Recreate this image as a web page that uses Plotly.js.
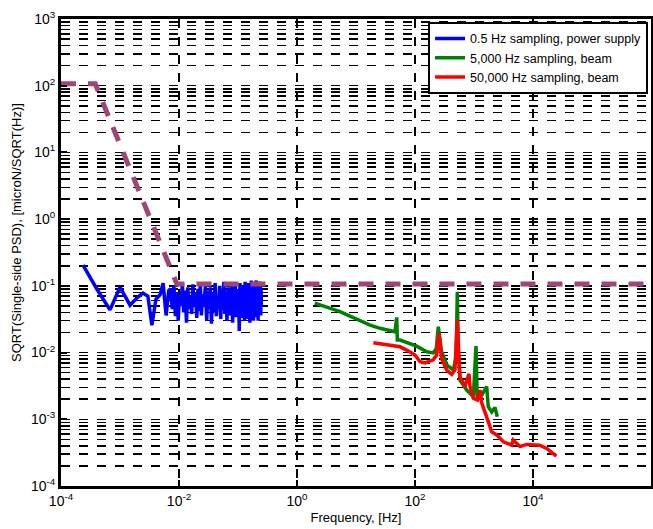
<!DOCTYPE html>
<html>
<head>
<meta charset="utf-8">
<script src="https://cdn.plot.ly/plotly-3.0.1.min.js"></script>
<style>html,body{margin:0;padding:0;background:#fff;}#chart{width:653px;height:529px;}</style>
</head>
<body>
<div id="chart"></div>
<script>
// Blue: 0.5 Hz sampling, power supply
const blueF = [2.36e-4, 4.07e-4, 6.76e-4, 1.0e-3, 1.48e-3, 1.94e-3, 2.45e-3, 2.97e-3, 3.47e-3, 4.06e-3, 4.79e-3, 5.37e-3, 6.05e-3, 6.7e-3,
  0.0072, 0.0077, 0.0082, 0.0087, 0.0092, 0.0097, 0.0102, 0.0108, 0.0114, 0.012,
  0.0127, 0.0134, 0.0141, 0.0148, 0.0156, 0.0164, 0.0172, 0.018, 0.019, 0.020,
  0.021, 0.022, 0.023, 0.024, 0.025, 0.0265, 0.028, 0.0295, 0.031, 0.0325,
  0.034, 0.0355, 0.037, 0.039, 0.041, 0.043, 0.045, 0.047, 0.049, 0.051,
  0.053, 0.055, 0.0575, 0.06, 0.0625, 0.065, 0.0675, 0.07, 0.0725, 0.075,
  0.078, 0.081, 0.084, 0.087, 0.09, 0.093, 0.096, 0.099, 0.102, 0.105,
  0.108, 0.111, 0.114, 0.117, 0.12, 0.123, 0.126, 0.129, 0.132, 0.135,
  0.138, 0.141, 0.144, 0.147, 0.15, 0.153, 0.156, 0.159, 0.162, 0.165,
  0.168, 0.171, 0.174, 0.177, 0.18, 0.183, 0.186, 0.189, 0.192, 0.195,
  0.198, 0.201, 0.204, 0.207, 0.21, 0.213, 0.216, 0.219, 0.222, 0.225,
  0.228, 0.231, 0.234, 0.237, 0.24, 0.243, 0.246, 0.249];
const blueV = [0.204, 0.089, 0.0437, 0.0955, 0.0513, 0.066, 0.078, 0.07, 0.0257, 0.063, 0.074, 0.11, 0.036, 0.085,
  0.09, 0.045, 0.10, 0.035, 0.08, 0.03, 0.075, 0.05, 0.11, 0.04,
  0.085, 0.028, 0.095, 0.045, 0.07, 0.038, 0.105, 0.05, 0.08, 0.033,
  0.09, 0.042, 0.11, 0.036, 0.075, 0.048, 0.1, 0.03, 0.085, 0.045,
  0.095, 0.027, 0.08, 0.04, 0.11, 0.035, 0.07, 0.05, 0.1, 0.032,
  0.09, 0.044, 0.115, 0.038, 0.08, 0.03, 0.095, 0.047, 0.075, 0.036,
  0.105, 0.028, 0.085, 0.042, 0.1, 0.034, 0.07, 0.048, 0.09, 0.021,
  0.11, 0.04, 0.08, 0.033, 0.1, 0.045, 0.085, 0.03, 0.115, 0.038,
  0.075, 0.046, 0.095, 0.032, 0.11, 0.04, 0.08, 0.028, 0.1, 0.044,
  0.12, 0.035, 0.085, 0.048, 0.095, 0.03, 0.11, 0.042, 0.08, 0.036,
  0.1, 0.046, 0.12, 0.034, 0.09, 0.04, 0.105, 0.03, 0.085, 0.045,
  0.11, 0.038, 0.095, 0.05, 0.115, 0.036, 0.09, 0.048];

// Green: 5,000 Hz sampling, beam
const greenF = [2.0, 3.62, 5.36, 7.9, 11.7, 17.3, 25.5, 37.7, 45.8, 49, 50.2, 55.7, 72.3, 107, 158, 204, 230, 248, 283, 348, 446, 500, 521, 540, 579, 752, 975, 1081, 1138, 1350, 1640, 1746, 1995, 2270, 2483];
const greenV = [0.0552, 0.046, 0.041, 0.0352, 0.030, 0.0258, 0.0231, 0.0212, 0.0205, 0.0337, 0.0154, 0.0154, 0.014, 0.0125, 0.0103, 0.0099, 0.0115, 0.0244, 0.0103, 0.0065, 0.0055, 0.0088, 0.0817, 0.0121, 0.00387, 0.00274, 0.00218, 0.0125, 0.00194, 0.0023, 0.0031, 0.00154, 0.00129, 0.0015, 0.00109];

// Red: 50,000 Hz sampling, beam
const redF = [19.7, 33.1, 55.7, 72.3, 100, 122, 148, 204, 233, 255, 283, 344, 419, 476, 521, 550, 579, 703, 822, 855, 975, 1138, 1264, 1350, 1536, 1746, 1995, 2440, 3140, 4350, 4600, 6030, 7810, 10040, 12900, 17060, 21900, 24800];
const redV = [0.014, 0.0129, 0.0122, 0.0109, 0.0092, 0.0073, 0.0070, 0.0078, 0.0092, 0.0194, 0.0081, 0.0055, 0.0047, 0.0055, 0.0307, 0.0099, 0.00435, 0.0031, 0.0048, 0.0031, 0.00206, 0.00194, 0.00274, 0.00176, 0.00122, 0.00092, 0.00065, 0.00058, 0.00046, 0.00041, 0.00049, 0.00039, 0.00042, 0.00041, 0.00041, 0.000365, 0.00031, 0.00028];

// Dashed requirement curve
const reqF = [1e-4, 3.8e-4, 9.2e-3, 1e6];
const reqV = [107, 107, 0.107, 0.107];

const seriesNames = ['0.5 Hz sampling, power supply', '5,000 Hz sampling, beam', '50,000 Hz sampling, beam'];

const xTickVals = [1e-4, 1e-2, 1, 1e2, 1e4, 1e6];
const xTickText = ['10<sup>-4</sup>', '10<sup>-2</sup>', '10<sup>0</sup>', '10<sup>2</sup>', '10<sup>4</sup>', '10<sup>6</sup>'];
const yTickVals = [1e-4, 1e-3, 1e-2, 1e-1, 1, 10, 100, 1000];
const yTickText = ['10<sup>-4</sup>', '10<sup>-3</sup>', '10<sup>-2</sup>', '10<sup>-1</sup>', '10<sup>0</sup>', '10<sup>1</sup>', '10<sup>2</sup>', '10<sup>3</sup>'];

const xTitle = 'Frequency, [Hz]';
const yTitle = 'SQRT(Single-side PSD), [microN/SQRT(Hz)]';

const traces = [
  {x: blueF, y: blueV, type: 'scatter', mode: 'lines', name: seriesNames[0], line: {color: '#0000ff', width: 3.5}},
  {x: greenF, y: greenV, type: 'scatter', mode: 'lines', name: seriesNames[1], line: {color: '#008000', width: 3.5}},
  {x: redF, y: redV, type: 'scatter', mode: 'lines', name: seriesNames[2], line: {color: '#ff0000', width: 3.5}},
  {x: reqF, y: reqV, type: 'scatter', mode: 'lines', showlegend: false, line: {color: '#9e4678', width: 5, dash: '15px,12px'}}
];

const layout = {
  width: 653, height: 529,
  margin: {l: 61, r: 2, t: 19, b: 43},
  paper_bgcolor: '#fff', plot_bgcolor: '#fff',
  font: {family: 'Arial, "Liberation Sans", sans-serif', size: 13, color: '#000'},
  showlegend: true,
  legend: {x: 0.995, xanchor: 'right', y: 0.994, yanchor: 'top', bgcolor: '#fff', bordercolor: '#000', borderwidth: 2,
    font: {size: 12.5}, tracegroupgap: 0, itemwidth: 30},
  xaxis: {
    type: 'log', range: [-4, 6], tickmode: 'array', tickvals: xTickVals, ticktext: xTickText,
    tickfont: {size: 14},
    showgrid: true, gridcolor: '#000', griddash: 'dash', gridwidth: 1.5,
    showline: true, linecolor: '#000', linewidth: 3, mirror: true, zeroline: false,
    ticks: 'inside', ticklen: 6, tickwidth: 2, tickcolor: '#000',
    title: {text: xTitle, font: {size: 13}, standoff: 6}
  },
  yaxis: {
    type: 'log', range: [-4, 3], tickmode: 'array', tickvals: yTickVals, ticktext: yTickText,
    tickfont: {size: 14},
    showgrid: true, gridcolor: '#000', griddash: 'dash', gridwidth: 1.5,
    showline: true, linecolor: '#000', linewidth: 3, mirror: true, zeroline: false,
    ticks: 'inside', ticklen: 6, tickwidth: 2, tickcolor: '#000',
    minor: {tickmode: 'linear', dtick: 'D1', showgrid: true, gridcolor: '#000', griddash: 'dash', gridwidth: 1.5, ticks: ''}
  },
  annotations: [
    {text: yTitle, xref: 'paper', yref: 'paper', x: (16 - 61) / 590, y: (486 - 233) / 467,
     xanchor: 'center', yanchor: 'middle', textangle: -90, showarrow: false, font: {size: 13}}
  ]
};

Plotly.newPlot('chart', traces, layout, {displayModeBar: false, staticPlot: true});
</script>
</body>
</html>
